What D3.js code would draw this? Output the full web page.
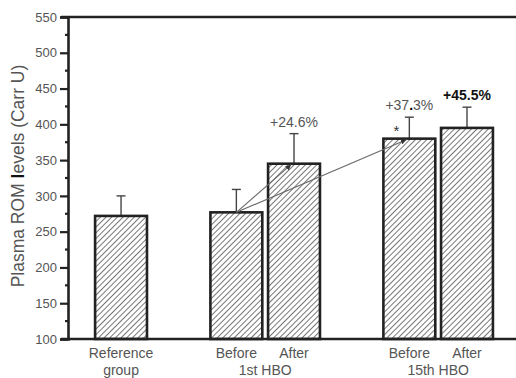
<!DOCTYPE html>
<html>
<head>
<meta charset="utf-8">
<script src="https://cdn.jsdelivr.net/npm/d3@7"></script>
<style>
  html, body { margin: 0; padding: 0; background: #fff; }
  svg { display: block; font-family: "Liberation Sans", Arial, sans-serif; }
</style>
</head>
<body>
<svg id="chart" width="516" height="378"></svg>
<script>
// Plasma ROM levels per group (Carr U), mean and upper error (mean + SD)
const categories = ["Reference group", "Before 1st HBO", "After 1st HBO", "Before 15th HBO", "After 15th HBO"];
const slots      = [0, 2, 3, 5, 6];            // horizontal slot of each bar
const means      = [272, 277, 345, 380, 395];
const errTops    = [300, 309, 387, 410, 424];
const yTicks     = [100, 150, 200, 250, 300, 350, 400, 450, 500, 550];
const xLabelsTop = [
  { slot: 0, text: "Reference" },
  { slot: 2, text: "Before" }, { slot: 3, text: "After" },
  { slot: 5, text: "Before" }, { slot: 6, text: "After" }
];
const xLabelsBottom = [
  { slot: 0, text: "group" },
  { slot: 2.5, text: "1st HBO" },
  { slot: 5.5, text: "15th HBO" }
];
// change versus "Before 1st HBO": [bar index, label]
const changes = [[2, "+24.6%"], [3, "+37.3%"], [4, "+45.5%"]];

const svg = d3.select("#chart");
const mLeft = 68, mRight = 516, mTop = 17, mBottom = 339;

const y = d3.scaleLinear().domain([100, 550]).range([mBottom, mTop]);
const x = d3.scaleLinear().domain([-0.92, 6.85]).range([mLeft, mRight]);
const barW = x(0.9) - x(0);

// diagonal hatch fill
const defs = svg.append("defs");
const pat = defs.append("pattern")
  .attr("id", "hatch").attr("patternUnits", "userSpaceOnUse")
  .attr("width", 4).attr("height", 4)
  .attr("patternTransform", "rotate(45)");
pat.append("rect").attr("width", 4).attr("height", 4).attr("fill", "#fff");
pat.append("line").attr("x1", 0).attr("y1", 0).attr("x2", 0).attr("y2", 4)
  .attr("stroke", "#3c3c3c").attr("stroke-width", 1.4);

const arrow = defs.append("marker")
  .attr("id", "arr").attr("viewBox", "0 0 6 6").attr("refX", 6).attr("refY", 3)
  .attr("markerWidth", 5).attr("markerHeight", 5).attr("orient", "auto");
arrow.append("path").attr("d", "M0,0L6,3L0,6Z").attr("fill", "#333");

// error bars (behind the bars)
const eg = svg.append("g").attr("stroke", "#444").attr("stroke-width", 1.4);
means.forEach((m, i) => {
  const cx = x(slots[i]);
  eg.append("line").attr("x1", cx).attr("x2", cx).attr("y1", y(m)).attr("y2", y(errTops[i]));
  eg.append("line").attr("x1", cx - 4.5).attr("x2", cx + 4.5).attr("y1", y(errTops[i])).attr("y2", y(errTops[i]));
});

// bars
svg.append("g").selectAll("rect").data(means).join("rect")
  .attr("x", (d, i) => x(slots[i]) - barW / 2)
  .attr("y", d => y(d))
  .attr("width", barW)
  .attr("height", d => y(100) - y(d))
  .attr("fill", "url(#hatch)")
  .attr("stroke", "#222")
  .attr("stroke-width", 2.6);

// comparison lines from "Before 1st HBO"
const lg = svg.append("g").attr("stroke", "#6a6a6a").attr("stroke-width", 1.1).attr("fill", "none");
[2, 3].forEach(j => {
  lg.append("line")
    .attr("x1", x(slots[1])).attr("y1", y(means[1]))
    .attr("x2", x(slots[j]) - 3).attr("y2", y(means[j]) + 1)
    .attr("marker-end", "url(#arr)");
});

// y axis
const yAxis = d3.axisLeft(y).tickValues(yTicks).tickSize(8).tickPadding(3);
const ya = svg.append("g").attr("transform", `translate(${mLeft},0)`).call(yAxis);
ya.select(".domain").attr("stroke", "#222").attr("stroke-width", 2.6);
ya.selectAll(".tick line").attr("stroke", "#222").attr("stroke-width", 2.2);
ya.selectAll(".tick text").attr("fill", "#555").attr("font-size", 13)
  .attr("font-family", "Liberation Sans, Arial, sans-serif");
// minor ticks
const minors = d3.range(125, 550, 50);
svg.append("g").selectAll("line").data(minors).join("line")
  .attr("x1", mLeft - 3).attr("x2", mLeft).attr("y1", d => y(d)).attr("y2", d => y(d))
  .attr("stroke", "#222").attr("stroke-width", 2.2);

// frame lines: top and bottom
svg.append("line").attr("x1", 61).attr("x2", mRight).attr("y1", mTop).attr("y2", mTop)
  .attr("stroke", "#222").attr("stroke-width", 2.6);
svg.append("line").attr("x1", 61).attr("x2", mRight).attr("y1", mBottom).attr("y2", mBottom)
  .attr("stroke", "#222").attr("stroke-width", 2.6);

// y title
const yt = svg.append("text")
  .attr("transform", "translate(24,176) rotate(-90)")
  .attr("text-anchor", "middle").attr("font-size", 17.5).attr("fill", "#555");
yt.append("tspan").text("Plasma ROM ");
yt.append("tspan").text("l").attr("font-weight", "bold").attr("fill", "#111");
yt.append("tspan").text("evels (Carr U)");

// x labels
svg.append("g").selectAll("text").data(xLabelsTop).join("text")
  .attr("x", d => x(d.slot)).attr("y", 358)
  .attr("text-anchor", "middle").attr("font-size", 14).attr("fill", "#555")
  .text(d => d.text);
svg.append("g").selectAll("text").data(xLabelsBottom).join("text")
  .attr("x", d => x(d.slot)).attr("y", 375)
  .attr("text-anchor", "middle").attr("font-size", 14).attr("fill", "#555")
  .text(d => d.text);

// change labels above the error bars
changes.forEach(([i, label], k) => {
  const cx = x(slots[i]);
  const t = svg.append("text").attr("x", cx).attr("y", y(errTops[i]) - 7)
    .attr("text-anchor", "middle").attr("font-size", 14);
  if (k === 2) {
    t.attr("font-weight", "bold").attr("fill", "#111").text(label);
  } else if (k === 1) {
    t.attr("fill", "#555");
    const [a, b] = label.split(".");
    t.append("tspan").text(a);
    t.append("tspan").text(".").attr("fill", "#000").attr("font-weight", "bold");
    t.append("tspan").text(b);
  } else {
    t.attr("fill", "#555").text(label);
  }
});

// significance marker
svg.append("text").attr("x", x(slots[3]) - 13).attr("y", y(means[3]) - 3)
  .attr("text-anchor", "middle").attr("font-size", 15).attr("fill", "#333").text("*");
</script>
</body>
</html>
